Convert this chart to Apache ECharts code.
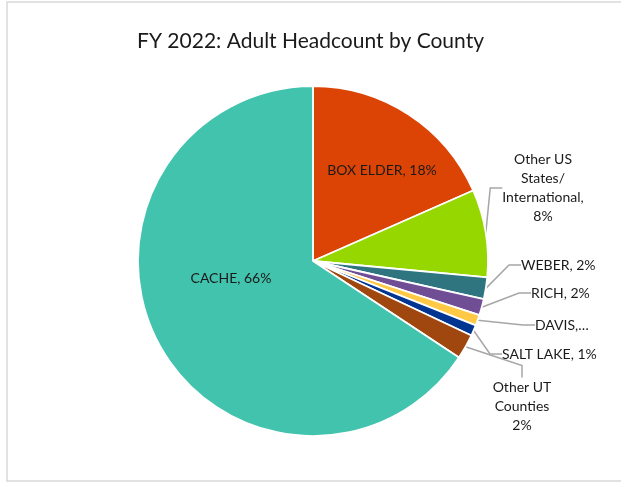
<!DOCTYPE html>
<html>
<head>
<meta charset="utf-8">
<script src="https://cdn.jsdelivr.net/npm/echarts@6/dist/echarts.min.js"></script>
<style>
html,body{margin:0;padding:0;background:#fff;}
#chart{width:621px;height:483px;}
</style>
</head>
<body>
<div id="chart"></div>
<script>
// Data
const titleText = 'FY 2022: Adult Headcount by County';
const categories = ['BOX ELDER', 'Other US States/International', 'WEBER', 'RICH', 'DAVIS', 'SALT LAKE', 'Other UT Counties', 'CACHE'];
const values = [18.4, 8.1, 2.0, 1.5, 1.0, 1.0, 2.3, 65.7];
const labelTexts = ['BOX ELDER, 18%', 'Other US\nStates/\nInternational,\n8%', 'WEBER, 2%', 'RICH, 2%', 'DAVIS,…', 'SALT LAKE, 1%', 'Other UT\nCounties\n2%', 'CACHE, 66%'];
const colors = ['#DC4405', '#97D700', '#2E7580', '#6F4E96', '#FFC845', '#003591', '#A0460F', '#41C3AD'];

// Label placement (layout, not data)
const labelPlace = [
  {x: 382, y: 170, align: 'center'},
  {x: 543, y: 188, align: 'center'},
  {x: 521, y: 265, align: 'left'},
  {x: 531, y: 293, align: 'left'},
  {x: 535, y: 325, align: 'left'},
  {x: 502, y: 354, align: 'left'},
  {x: 522, y: 406, align: 'center'},
  {x: 231, y: 278, align: 'center'}
];
const insideIdx = [0, 7];

const chart = echarts.init(document.getElementById('chart'), null, {renderer: 'canvas'});
const FONT = 'Lato, "Noto Sans", sans-serif';

const data = categories.map((c, i) => ({
  name: c,
  value: values[i],
  itemStyle: {color: colors[i]},
  label: insideIdx.includes(i)
    ? {show: true, position: 'inside'}
    : {show: true, position: 'outside'},
  labelLine: {show: !insideIdx.includes(i)}
}));

chart.setOption({
  animation: false,
  backgroundColor: '#fff',
  title: {
    text: titleText,
    left: 'center',
    top: 26,
    textStyle: {fontFamily: FONT, fontSize: 21, fontWeight: 'normal', color: '#1a1a1a'}
  },
  graphic: [{
    type: 'rect',
    shape: {x: 7, y: 2, width: 640, height: 479},
    style: {fill: 'none', stroke: '#D9D9D9', lineWidth: 1.5},
    silent: true
  }],
  series: [{
    type: 'pie',
    center: [313, 261],
    radius: [0, 175],
    startAngle: 90,
    clockwise: true,
    avoidLabelOverlap: false,
    itemStyle: {borderColor: '#fff', borderWidth: 1.8},
    label: {
      fontFamily: FONT,
      fontSize: 14,
      color: '#1a1a1a',
      lineHeight: 19,
      formatter: p => labelTexts[p.dataIndex]
    },
    labelLine: {
      show: true,
      length: 12,
      length2: 12,
      lineStyle: {color: '#A6A6A6', width: 1.5}
    },
    labelLayout: function (params) {
      const lp = labelPlace[params.dataIndex];
      return {x: lp.x, y: lp.y, align: lp.align, verticalAlign: 'middle'};
    },
    data: data
  }]
});
</script>
</body>
</html>
